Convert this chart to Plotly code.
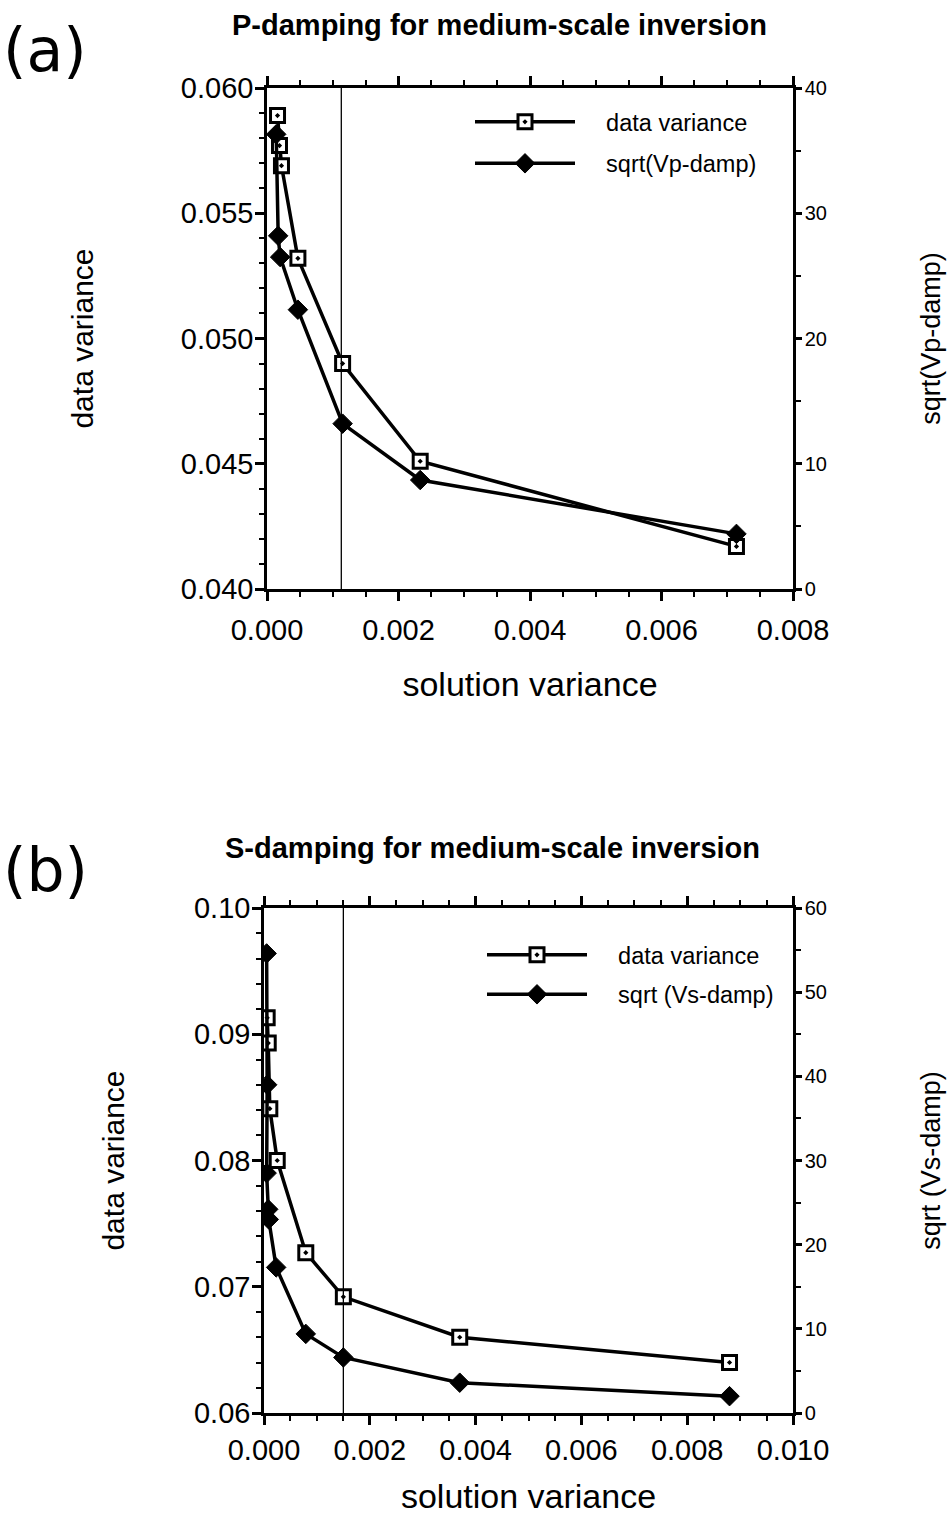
import plotly.graph_objects as go

# ---------------- data ----------------
# Panel (a): P-damping
a_x_datavar = [0.00016, 0.00019, 0.00022, 0.00047, 0.00115, 0.00233, 0.00714]
a_datavar = [0.0589, 0.0577, 0.0569, 0.0532, 0.0490, 0.0451, 0.0417]
a_x_damp = [0.00014, 0.00017, 0.00020, 0.00047, 0.00115, 0.00233, 0.00714]
a_sqrt_damp = [36.3, 28.2, 26.5, 22.3, 13.2, 8.7, 4.4]
a_marker_line = 0.00113

# Panel (b): S-damping
b_x_datavar = [0.00006, 0.00008, 0.00011, 0.00025, 0.00079, 0.0015, 0.0037, 0.0088]
b_datavar = [0.0913, 0.0893, 0.0841, 0.0800, 0.0727, 0.0692, 0.0660, 0.0640]
b_x_damp = [0.00005, 0.00006, 0.00005, 0.00008, 0.00009, 0.00023, 0.00079, 0.0015, 0.0037, 0.0088]
b_sqrt_damp = [54.6, 39.0, 28.5, 24.2, 23.0, 17.3, 9.4, 6.6, 3.6, 2.0]
b_marker_line = 0.0015

a_title = "P-damping for medium-scale inversion"
b_title = "S-damping for medium-scale inversion"
a_legend = ["data variance", "sqrt(Vp-damp)"]
b_legend = ["data variance", "sqrt (Vs-damp)"]

W, H = 950, 1517
FONT = "Liberation Sans, Arial, sans-serif"
PAD = "\u00a0\u00a0\u00a0\u00a0"


def px_x(p):
    return p / W


def px_y(p):
    return 1 - p / H


fig = go.Figure()

sq_marker = dict(symbol="square-dot", size=14, color="white",
                 line=dict(color="black", width=3))
dm_marker = dict(symbol="diamond", size=15, color="black",
                 line=dict(color="black", width=1))
ln = dict(color="black", width=3.5)

fig.add_trace(go.Scatter(x=a_x_datavar, y=a_datavar, mode="lines+markers",
                         name=PAD + a_legend[0], line=ln, marker=sq_marker,
                         xaxis="x", yaxis="y", legend="legend", legendgroup="a1"))
fig.add_trace(go.Scatter(x=a_x_damp, y=a_sqrt_damp, mode="lines+markers",
                         name=PAD + a_legend[1], line=ln, marker=dm_marker,
                         xaxis="x", yaxis="y2", legend="legend", legendgroup="a2"))
fig.add_trace(go.Scatter(x=b_x_datavar, y=b_datavar, mode="lines+markers",
                         name=PAD + b_legend[0], line=ln, marker=sq_marker,
                         xaxis="x2", yaxis="y3", legend="legend2", legendgroup="b1"))
fig.add_trace(go.Scatter(x=b_x_damp, y=b_sqrt_damp, mode="lines+markers",
                         name=PAD + b_legend[1], line=ln, marker=dm_marker,
                         xaxis="x2", yaxis="y4", legend="legend2", legendgroup="b2"))

# reference vertical lines
fig.add_shape(type="line", xref="x", yref="y domain", x0=a_marker_line, x1=a_marker_line,
              y0=0, y1=1, line=dict(color="black", width=1.3))
fig.add_shape(type="line", xref="x2", yref="y3 domain", x0=b_marker_line, x1=b_marker_line,
              y0=0, y1=1, line=dict(color="black", width=1.3))

tickfont = dict(family=FONT, size=29, color="black")
rtickfont = dict(family=FONT, size=20, color="black")
ytitlefont = dict(family=FONT, size=30, color="black")
xtitlefont = dict(family=FONT, size=34, color="black")
rtitlefont = dict(family=FONT, size=27, color="black")

common = dict(showline=True, linecolor="black", linewidth=2.5, ticks="outside",
              ticklen=9, tickwidth=2.5, tickcolor="black", showgrid=False,
              zeroline=False, fixedrange=True, automargin=False)
right_common = dict(common, ticklen=6)
minor_style = dict(ticks="outside", ticklen=5, tickwidth=2, tickcolor="black")

ax_a_dom = [px_x(267), px_x(793)]
ay_a_dom = [px_y(589), px_y(88)]
ax_b_dom = [px_x(264), px_x(793)]
ay_b_dom = [px_y(1413), px_y(908)]

fig.update_layout(
    width=W, height=H,
    margin=dict(l=0, r=0, t=0, b=0, autoexpand=False),
    paper_bgcolor="white", plot_bgcolor="white",
    font=dict(family=FONT, color="black"),
    xaxis=dict(domain=ax_a_dom, anchor="y", range=[0, 0.008], dtick=0.002,
               tickformat=".3f", tickfont=tickfont, mirror="ticks", ticklabelstandoff=4,
               minor=dict(dtick=0.0005, **minor_style),
               title=dict(text="solution variance", font=xtitlefont, standoff=28), **common),
    yaxis=dict(domain=ay_a_dom, anchor="x", range=[0.040, 0.060], dtick=0.005,
               tickformat=".3f", tickfont=tickfont, ticklabelstandoff=-4,
               minor=dict(dtick=0.001, **minor_style),
               title=dict(text="data variance", font=ytitlefont, standoff=79), **common),
    yaxis2=dict(overlaying="y", side="right", anchor="x", range=[0, 40], dtick=10,
                tickfont=rtickfont, ticklabelstandoff=-1,
                minor=dict(dtick=5, **minor_style),
                title=dict(text="sqrt(Vp-damp)", font=rtitlefont, standoff=96), **right_common),
    xaxis2=dict(domain=ax_b_dom, anchor="y3", range=[0, 0.010], dtick=0.002,
                tickformat=".3f", tickfont=tickfont, mirror="ticks",
                minor=dict(dtick=0.0005, **minor_style),
                title=dict(text="solution variance", font=xtitlefont, standoff=20), **common),
    yaxis3=dict(domain=ay_b_dom, anchor="x2", range=[0.06, 0.10], dtick=0.01,
                tickformat=".2f", tickfont=tickfont, ticklabelstandoff=-4,
                minor=dict(dtick=0.002, **minor_style),
                title=dict(text="data variance", font=ytitlefont, standoff=61), **common),
    yaxis4=dict(overlaying="y3", side="right", anchor="x2", range=[0, 60], dtick=10,
                tickfont=rtickfont, ticklabelstandoff=-1,
                minor=dict(dtick=5, **minor_style),
                title=dict(text="sqrt (Vs-damp)", font=rtitlefont, standoff=96), **right_common),
    legend=dict(x=px_x(470), y=px_y(100), xanchor="left", yanchor="top",
                font=dict(family=FONT, size=23.5, color="black"), bgcolor="rgba(0,0,0,0)",
                itemwidth=100, tracegroupgap=8),
    legend2=dict(x=px_x(482), y=px_y(933), xanchor="left", yanchor="top",
                 font=dict(family=FONT, size=23.5, color="black"), bgcolor="rgba(0,0,0,0)",
                 itemwidth=100, tracegroupgap=6),
    showlegend=True,
)

fig.add_annotation(text="<b>" + a_title + "</b>", xref="paper", yref="paper",
                   x=px_x(499), y=px_y(25), xanchor="center", yanchor="middle",
                   showarrow=False, font=dict(family=FONT, size=29, color="black"))
fig.add_annotation(text="<b>" + b_title + "</b>", xref="paper", yref="paper",
                   x=px_x(492), y=px_y(848), xanchor="center", yanchor="middle",
                   showarrow=False, font=dict(family=FONT, size=29, color="black"))
fig.add_annotation(text="(a)", xref="paper", yref="paper", x=px_x(45), y=px_y(50),
                   xanchor="center", yanchor="middle",
                   showarrow=False, font=dict(family="DejaVu Sans", size=60, color="black"))
fig.add_annotation(text="(b)", xref="paper", yref="paper", x=px_x(45), y=px_y(870),
                   xanchor="center", yanchor="middle",
                   showarrow=False, font=dict(family="DejaVu Sans", size=60, color="black"))

fig.write_html("out.html", config={"displayModeBar": False},
               post_script="document.body.style.margin='0';document.body.style.overflow='hidden';")
